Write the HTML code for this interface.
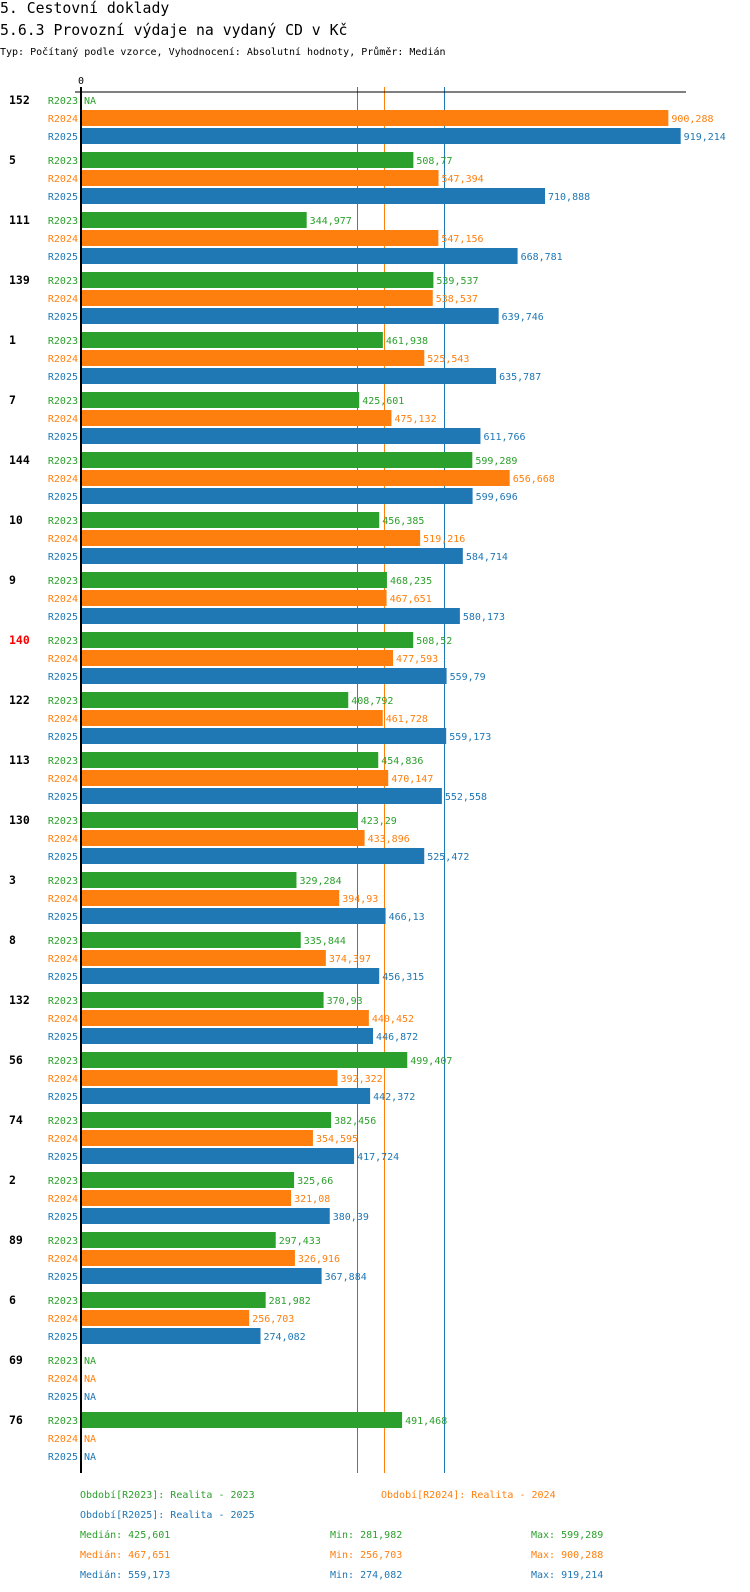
<!DOCTYPE html>
<html><head><meta charset="utf-8">
<style>
html,body{margin:0;padding:0;background:#fff;width:750px;height:1592px;overflow:hidden;font-family:"DejaVu Sans Mono","Liberation Mono",monospace;}
svg{display:block;}
svg text{font-family:"DejaVu Sans Mono","Liberation Mono",monospace;}
</style></head><body>
<svg id="chart" width="750" height="1592" xmlns="http://www.w3.org/2000/svg">
<text x="0" y="13" font-size="14.8">5. Cestovní doklady</text>
<text x="0" y="35" font-size="14.8">5.6.3 Provozní výdaje na vydaný CD v Kč</text>
<text x="0" y="55" font-size="10">Typ: Počítaný podle vzorce, Vyhodnocení: Absolutní hodnoty, Průměr: Medián</text>
<g id="plot"></g>
<g id="legend"></g>
</svg>
<script>
const categories=["152","5","111","139","1","7","144","10","9","140","122","113","130","3","8","132","56","74","2","89","6","69","76"];
const r2023=[null,508.77,344.977,539.537,461.938,425.601,599.289,456.385,468.235,508.52,408.792,454.836,423.29,329.284,335.844,370.93,499.407,382.456,325.66,297.433,281.982,null,491.468];
const r2024=[900.288,547.394,547.156,538.537,525.543,475.132,656.668,519.216,467.651,477.593,461.728,470.147,433.896,394.93,374.397,440.452,392.322,354.595,321.08,326.916,256.703,null,null];
const r2025=[919.214,710.888,668.781,639.746,635.787,611.766,599.696,584.714,580.173,559.79,559.173,552.558,525.472,466.13,456.315,446.872,442.372,417.724,380.39,367.884,274.082,null,null];
const seriesNames=["R2023","R2024","R2025"];
const medians=[425.601,467.651,559.173];
const mins=[281.982,256.703,274.082];
const maxs=[599.289,900.288,919.214];
const legendLabels=["Období[R2023]: Realita - 2023","Období[R2024]: Realita - 2024","Období[R2025]: Realita - 2025"];
const highlight="140";
const colors=["#2ca02c","#ff7f0e","#1f77b4"];
const NS="http://www.w3.org/2000/svg";
const X0=82, K=0.6513;
const x=v=>X0+v*K;
const groupY=i=>92+i*60;
const fmt=v=>String(v).replace('.',',');
const plot=document.getElementById('plot');
function mk(tag,attrs,parent){const e=document.createElementNS(NS,tag);for(const k in attrs)e.setAttribute(k,attrs[k]);parent.appendChild(e);return e;}
const series=[r2023,r2024,r2025];
const plotBottom=1473;
medians.forEach((m,s)=>{
  const xx=Math.floor(x(m))-1.5;
  const l=mk('line',{x1:xx,x2:xx,y1:87,y2:plotBottom,stroke:colors[s],'stroke-width':1},plot);
  
  
});
categories.forEach((c,i)=>{
  const gy=groupY(i);
  const g=mk('text',{x:9,y:gy+12,'font-size':11.5,'font-weight':'bold',fill:c===highlight?'#ff0000':'#000'},plot);
  g.textContent=c;
  
  
  series.forEach((arr,s)=>{
    const y=gy+s*18;
    const v=arr[i];
    const lab=mk('text',{x:78,y:y+12,'font-size':10,fill:colors[s],'text-anchor':'end'},plot);
    lab.textContent=seriesNames[s];
    
    
    if(v===null){
      const t=mk('text',{x:84,y:y+12,'font-size':10,fill:colors[s]},plot);
      t.textContent='NA';
      
      
    }else{
      const r=mk('rect',{x:X0,y:y,width:v*K,height:16,fill:colors[s]},plot);
      
      
      const t=mk('text',{x:x(v)+3,y:y+12,'font-size':10,fill:colors[s]},plot);
      t.textContent=fmt(v);
      
      
    }
  });
});
const yAxis=mk('line',{x1:81,x2:81,y1:87,y2:plotBottom,stroke:'#000','stroke-width':2},plot);


const xAxis=mk('line',{x1:75,x2:686,y1:92,y2:92,stroke:'#000','stroke-width':1},plot);


const zero=mk('text',{x:81,y:84,'font-size':10,'text-anchor':'middle'},plot);
zero.textContent='0';


const lg=document.getElementById('legend');
const lpos=[[80,1498],[381,1498],[80,1518]];
legendLabels.forEach((t,s)=>{
  const e=mk('text',{x:lpos[s][0],y:lpos[s][1],'font-size':10,fill:colors[s]},lg);
  e.textContent=t;
  
  
});
[0,1,2].forEach(s=>{
  const y=1538+s*20;
  [[80,'Medián: '+fmt(medians[s])],[330,'Min: '+fmt(mins[s])],[531,'Max: '+fmt(maxs[s])]].forEach(([xx,t],j)=>{
    const e=mk('text',{x:xx,y:y,'font-size':10,fill:colors[s]},lg);
    e.textContent=t;
    
    
  });
});
</script>
</body></html>
